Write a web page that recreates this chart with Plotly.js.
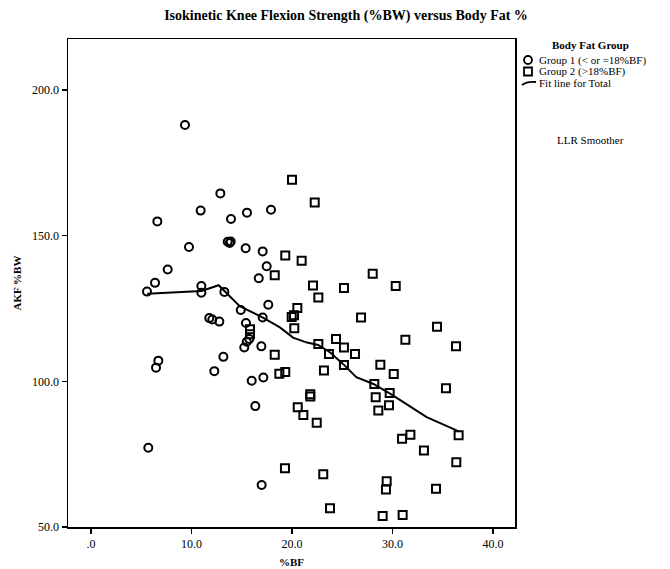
<!DOCTYPE html>
<html><head><meta charset="utf-8">
<script src="https://cdn.plot.ly/plotly-3.0.1.min.js"></script>
<style>html,body{margin:0;padding:0;background:#fff}#chart{width:670px;height:569px}</style>
</head><body><div id="chart"></div>
<script>
// Group 1 (<= 18 %BF) — circles
const g1X = [9.35,12.87,10.91,13.93,6.6,15.52,17.91,13.6,13.8,13.9,9.75,15.39,17.08,17.48,7.63,16.69,6.37,5.57,10.98,10.98,13.27,17.64,14.9,17.08,11.77,12.07,12.77,15.42,15.75,15.5,15.25,16.95,13.17,12.27,6.70,6.47,15.99,17.15,16.35,16.98,5.7];
const g1Y = [188.0,164.5,158.6,155.7,154.9,157.9,158.9,147.9,147.5,148.0,146.1,145.7,144.6,139.5,138.4,135.4,133.8,130.8,132.7,130.4,130.7,126.3,124.5,121.9,121.7,121.2,120.5,120.0,114.5,113.6,111.6,112.0,108.4,103.5,107.1,104.7,100.2,101.3,91.5,64.4,77.2];
// Group 2 (> 18 %BF) — squares
const g2X = [15.82,15.82,20.0,22.26,19.33,20.96,18.28,22.09,25.17,22.62,20.53,19.97,20.2,20.23,26.87,28.03,30.32,34.43,31.28,36.32,22.62,24.38,25.17,26.27,23.68,25.17,23.18,18.28,18.74,19.33,21.82,21.82,20.57,21.13,22.46,19.30,23.11,23.78,28.79,30.12,28.19,29.72,28.33,29.65,28.59,35.32,36.58,31.78,30.95,33.13,36.35,29.42,29.35,34.33,29.02,31.01];
const g2Y = [117.9,116.2,169.2,161.4,143.2,141.4,136.4,132.9,132.0,128.8,125.2,122.1,122.7,118.2,121.9,136.9,132.7,118.7,114.3,112.0,112.8,114.5,111.6,109.4,109.4,105.6,103.7,109.1,102.6,103.2,94.8,95.6,91.1,88.4,85.8,70.2,68.1,56.4,105.7,102.5,99.1,96.0,94.5,91.8,90.0,97.6,81.5,81.7,80.3,76.3,72.2,65.7,62.9,63.1,53.8,54.1];
// LLR smoother fit line for total
const fitX = [5.6,11.0,12.7,14.8,17.1,18.8,20.1,21.5,22.6,23.8,25.1,26.4,28.1,29.8,33.4,36.6];
const fitY = [130.1,131.0,133.0,125.8,121.9,118.5,115.0,113.3,112.5,109.9,105.9,101.4,99.1,95.7,87.7,82.8];
// Tick labels
const xTickVals = [0,10,20,30,40];
const xTickText = ['.0','10.0','20.0','30.0','40.0'];
const yTickVals = [50,100,150,200];
const yTickText = ['50.0','100.0','150.0','200.0'];

const W = 670, H = 569, L = 68, R = 155, T = 39, B = 42;
const pw = W - L - R, ph = H - T - B;
const px = x => (x - L) / pw;          // pixel -> paper x
const py = y => (H - B - y) / ph;      // pixel -> paper y
const serif = 'Liberation Serif, Times New Roman, serif';

const traces = [
  {x: g1X, y: g1Y, type: 'scatter', mode: 'markers', name: 'Group 1 (< or =18%BF)',
   marker: {symbol: 'circle-open', size: 8, color: '#000', line: {width: 2, color: '#000'}}},
  {x: g2X, y: g2Y, type: 'scatter', mode: 'markers', name: 'Group 2 (>18%BF)',
   marker: {symbol: 'square-open', size: 8, color: '#000', line: {width: 2, color: '#000'}}},
  {x: fitX, y: fitY, type: 'scatter', mode: 'lines', name: 'Fit line for Total',
   line: {color: '#000', width: 2}}
];

const legFont = {family: serif, size: 11, color: '#000'};
const layout = {
  width: W, height: H,
  margin: {l: L, r: R, t: T, b: B},
  paper_bgcolor: '#fff', plot_bgcolor: '#fff',
  showlegend: false,
  font: {family: serif, color: '#000', size: 12},
  title: {text: '<b>Isokinetic Knee Flexion Strength (%BW) versus Body Fat %</b>',
          x: 346 / W, xanchor: 'center', y: 1 - 15 / H, yanchor: 'middle',
          font: {family: serif, size: 14, color: '#000'}},
  xaxis: {range: [-2.29, 42.19], tickvals: xTickVals, ticktext: xTickText,
          showgrid: false, zeroline: false, showline: true, mirror: true,
          linecolor: '#000', linewidth: 1.5, ticks: 'outside', ticklen: 5, tickwidth: 1.5, tickcolor: '#000',
          tickfont: {family: serif, size: 12, color: '#000'},
          title: {text: '<b>%BF</b>', font: {family: serif, size: 11, color: '#000'}, standoff: 8}},
  yaxis: {range: [50, 217.5], tickvals: yTickVals, ticktext: yTickText,
          showgrid: false, zeroline: false, showline: true, mirror: true,
          linecolor: '#000', linewidth: 1.5, ticks: 'outside', ticklen: 5, tickwidth: 1.5, tickcolor: '#000',
          tickfont: {family: serif, size: 12, color: '#000'},
          title: {text: '<b>AKF %BW</b>', font: {family: serif, size: 11, color: '#000'}, standoff: 8}},
  annotations: [
    {text: '<b>Body Fat Group</b>', xref: 'paper', yref: 'paper', x: px(590), y: py(45),
     xanchor: 'center', yanchor: 'middle', showarrow: false, font: {family: serif, size: 11, color: '#000'}},
    {text: 'Group 1 (< or =18%BF)', xref: 'paper', yref: 'paper', x: px(537), y: py(60),
     xanchor: 'left', yanchor: 'middle', showarrow: false, font: legFont},
    {text: 'Group 2 (>18%BF)', xref: 'paper', yref: 'paper', x: px(537), y: py(71.5),
     xanchor: 'left', yanchor: 'middle', showarrow: false, font: legFont},
    {text: 'Fit line for Total', xref: 'paper', yref: 'paper', x: px(537), y: py(83),
     xanchor: 'left', yanchor: 'middle', showarrow: false, font: legFont},
    {text: 'LLR Smoother', xref: 'paper', yref: 'paper', x: px(590), y: py(140),
     xanchor: 'center', yanchor: 'middle', showarrow: false, font: {family: serif, size: 11, color: '#000'}}
  ],
  shapes: [
    {type: 'circle', xref: 'paper', yref: 'paper', x0: px(524), x1: px(532), y0: py(64), y1: py(56),
     line: {color: '#000', width: 1.8}},
    {type: 'rect', xref: 'paper', yref: 'paper', x0: px(524), x1: px(532), y0: py(75.5), y1: py(67.5),
     line: {color: '#000', width: 1.8}},
    {type: 'path', xref: 'paper', yref: 'paper',
     path: `M ${px(522)} ${py(85)} Q ${px(527)} ${py(81)} ${px(536)} ${py(82)}`,
     line: {color: '#000', width: 1.8}}
  ]
};

Plotly.newPlot('chart', traces, layout, {displayModeBar: false, staticPlot: true});
</script></body></html>
